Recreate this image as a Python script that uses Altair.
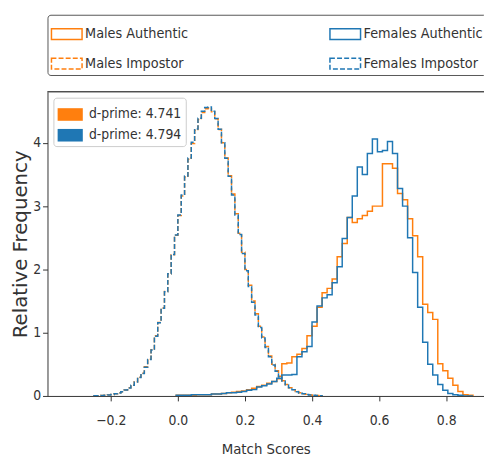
import altair as alt
import pandas as pd

# ---------------- data ----------------
SERIES = ["Males Authentic", "Males Impostor", "Females Authentic", "Females Impostor"]
COLORS = ["#ff7f0e", "#ff7f0e", "#1f77b4", "#1f77b4"]
DASHES = [[1, 0], [5, 2.2], [1, 0], [5, 2.2]]
DPRIME_LABELS = ["d-prime: 4.741", "d-prime: 4.794"]
DPRIME_COLORS = ["#ff7f0e", "#1f77b4"]

# authentic histograms: bin start and width, then heights (relative frequency)
AUTH_START = -0.005
AUTH_WIDTH = 0.015
males_authentic = [
    0.01, 0.01, 0.01, 0.01, 0.02, 0.02, 0.02, 0.03, 0.03, 0.04,
    0.05, 0.06, 0.07, 0.08, 0.10, 0.12, 0.15, 0.17, 0.20, 0.23,
    0.27, 0.51, 0.52, 0.62, 0.66, 0.75, 0.95, 1.10, 1.40, 1.63,
    1.70, 1.85, 2.20, 2.41, 2.82, 2.74, 2.80, 2.85, 2.92, 3.00,
    3.00, 3.67, 3.67, 3.60, 3.20, 3.10, 2.80, 2.53, 2.20, 1.45,
    1.32, 1.21, 0.51, 0.40, 0.28, 0.17, 0.07, 0.02, 0.01,
]
females_authentic = [
    0.01, 0.01, 0.01, 0.02, 0.02, 0.02, 0.02, 0.03, 0.03, 0.04,
    0.05, 0.05, 0.06, 0.07, 0.09, 0.10, 0.14, 0.16, 0.19, 0.23,
    0.28, 0.33, 0.33, 0.34, 0.62, 0.70, 0.78, 1.17, 1.42, 1.55,
    1.60, 1.79, 2.04, 2.49, 2.82, 3.16, 3.62, 3.50, 3.83, 4.06,
    3.86, 3.88, 4.02, 3.83, 3.28, 3.00, 2.50, 1.95, 1.40, 0.85,
    0.50, 0.33, 0.18, 0.09, 0.04, 0.02, 0.01, 0.00, 0.00,
]

# impostor histograms
IMP_START = -0.25
IMP_WIDTH = 0.01
males_impostor = [
    0.003, 0.005, 0.008, 0.011, 0.017, 0.024, 0.034, 0.049, 0.068, 0.094,
    0.128, 0.170, 0.225, 0.295, 0.360, 0.460, 0.580, 0.730, 0.950, 1.160,
    1.390, 1.650, 1.930, 2.230, 2.540, 2.850, 3.160, 3.460, 3.740, 3.990,
    4.200, 4.370, 4.480, 4.540, 4.550, 4.490, 4.380, 4.210, 4.000, 3.760,
    3.480, 3.190, 2.880, 2.570, 2.270, 2.000, 1.750, 1.500, 1.300, 1.100,
    0.930, 0.780, 0.630, 0.500, 0.400, 0.310, 0.240, 0.180, 0.130, 0.100,
    0.070, 0.050, 0.035, 0.025, 0.017, 0.011, 0.007, 0.004,
]
females_impostor = [
    0.003, 0.005, 0.007, 0.011, 0.016, 0.023, 0.033, 0.048, 0.067, 0.093,
    0.127, 0.168, 0.222, 0.292, 0.356, 0.455, 0.575, 0.725, 0.945, 1.155,
    1.385, 1.645, 1.930, 2.235, 2.545, 2.860, 3.175, 3.475, 3.760, 4.010,
    4.220, 4.390, 4.500, 4.560, 4.565, 4.500, 4.385, 4.215, 4.000, 3.755,
    3.470, 3.175, 2.860, 2.550, 2.250, 1.980, 1.730, 1.480, 1.280, 1.080,
    0.915, 0.765, 0.620, 0.490, 0.390, 0.300, 0.235, 0.175, 0.128, 0.097,
    0.068, 0.048, 0.034, 0.024, 0.016, 0.010, 0.006, 0.004,
]

X_TICKS = [-0.2, 0.0, 0.2, 0.4, 0.6, 0.8]
Y_TICKS = [0, 1, 2, 3, 4]
X_DOMAIN = [-0.3887, 0.9128]
Y_DOMAIN = [0, 4.807]

FONT = "DejaVu Sans Condensed, DejaVu Sans, sans-serif"


def step_rows(name, start, width, heights):
    rows = [{"series": name, "x": start, "y": 0.0, "o": 0}]
    k = 1
    for i, h in enumerate(heights):
        left = start + i * width
        right = start + (i + 1) * width
        rows.append({"series": name, "x": left, "y": h, "o": k}); k += 1
        rows.append({"series": name, "x": right, "y": h, "o": k}); k += 1
    rows.append({"series": name, "x": start + len(heights) * width, "y": 0.0, "o": k})
    return rows


rows = []
rows += step_rows("Males Authentic", AUTH_START, AUTH_WIDTH, males_authentic)
rows += step_rows("Males Impostor", IMP_START, IMP_WIDTH, males_impostor)
rows += step_rows("Females Authentic", AUTH_START, AUTH_WIDTH, females_authentic)
rows += step_rows("Females Impostor", IMP_START, IMP_WIDTH, females_impostor)
df = pd.DataFrame(rows)

x_enc = alt.X("x:Q", scale=alt.Scale(domain=X_DOMAIN, nice=False, zero=False),
              axis=alt.Axis(values=X_TICKS, format=".1f", title="Match Scores"))
y_enc = alt.Y("y:Q", scale=alt.Scale(domain=Y_DOMAIN, nice=False),
              axis=alt.Axis(values=Y_TICKS, format="d", title="Relative Frequency"))

top_legend = alt.Legend(
    title=None, orient="none", legendX=0, legendY=-78, columns=2,
    columnPadding=140, rowPadding=5, padding=3,
    symbolType="M-1,-0.35H1V0.35H-1Z", symbolSize=960, symbolStrokeWidth=1.5,
    symbolFillColor="transparent", labelFontSize=14.5, labelFont=FONT,
    labelColor="#333", labelOffset=2, labelLimit=300,
    strokeColor="#555", fillColor="white", cornerRadius=3,
)

stroke_enc = alt.Stroke("series:N", scale=alt.Scale(domain=SERIES, range=COLORS), legend=top_legend)
dash_enc = alt.StrokeDash("series:N", scale=alt.Scale(domain=SERIES, range=DASHES), legend=top_legend)

layers = []
for name in ["Males Authentic", "Males Impostor", "Females Authentic", "Females Impostor"]:
    layers.append(
        alt.Chart(df).transform_filter(alt.datum.series == name)
        .mark_line(strokeWidth=1.5, clip=True)
        .encode(x=x_enc, y=y_enc, stroke=stroke_enc, strokeDash=dash_enc, order="o:Q")
    )

dp_df = pd.DataFrame({"label": DPRIME_LABELS, "x": [0.09, 0.09], "y": [0.0, 0.0]})
dprime = alt.Chart(dp_df).mark_square(opacity=0, size=1).encode(
    x="x:Q", y="y:Q",
    fill=alt.Fill("label:N", scale=alt.Scale(domain=DPRIME_LABELS, range=DPRIME_COLORS),
                  legend=alt.Legend(title=None, orient="top-left", offset=6, padding=4,
                                    symbolType="M-1,-0.5H1V0.5H-1Z", symbolSize=650,
                                    symbolOpacity=1, symbolStrokeWidth=0, rowPadding=1,
                                    labelFontSize=14, labelFont=FONT, labelColor="#333",
                                    labelOffset=6, strokeColor="#ccc",
                                    fillColor="rgba(255,255,255,0.85)", cornerRadius=3)),
)

top_line = alt.Chart(dp_df).mark_rule(color="#444", strokeWidth=1.2).encode(
    x=alt.value(0), x2=alt.value(442), y=alt.value(0))

chart = alt.layer(*layers, dprime, top_line).properties(
    width=442, height=308,
    autosize=alt.AutoSizeParams(type="none"),
    padding={"left": 40, "top": 82, "right": 0, "bottom": 60},
).configure_view(stroke=None).configure_axis(
    grid=False, domainColor="#333", tickColor="#333", tickSize=5,
    labelFont=FONT, labelFontSize=14, labelColor="#333",
    titleFont=FONT, titleColor="#333", titleFontWeight="normal",
).configure_axisX(labelPadding=13, titleFontSize=15, titlePadding=14).configure_axisY(
    labelPadding=2, titleFont="DejaVu Sans", titleFontSize=20, titlePadding=2,
)

chart.save("out.html", embed_options={"renderer": "svg", "actions": False})
